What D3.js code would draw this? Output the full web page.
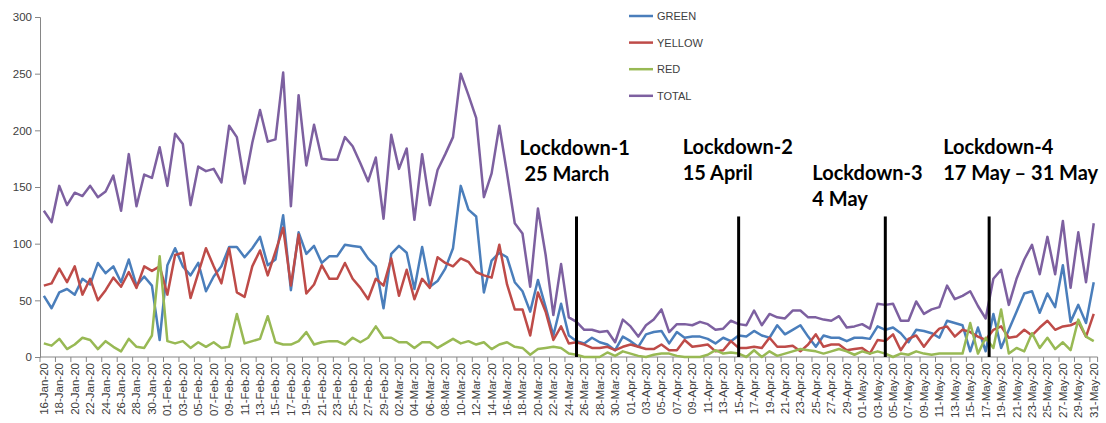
<!DOCTYPE html>
<html>
<head>
<meta charset="utf-8">
<script src="https://cdn.jsdelivr.net/npm/d3@7"></script>
<style>
  body { margin: 0; background: #fff; }
  text { font-family: "Liberation Sans", Arial, sans-serif; }
  .note { font-family: Lato, "Liberation Sans", sans-serif; font-weight: bold; font-size: 20px; fill: #000; }
</style>
</head>
<body>
<div id="chart"></div>
<script>
// categories: one per day, 16 Jan 2020 to 31 May 2020
const parseDay = d3.timeParse("%d-%b-%y");
const formatDay = d3.timeFormat("%d-%b-%y");
const days = d3.timeDay.range(parseDay("16-Jan-20"), parseDay("01-Jun-20")).map(formatDay);

// series values
const green = [54,43,57,60,55,69,64,83,74,80, 66,86,63,71,63,15,81,96,80,72,
  83,58,71,80,97,97,88,96,106,81, 86,125,59,110,91,98,83,89,89,99,
  98,97,87,80,43,91,98,92,60,97, 62,67,78,96,151,130,124,57,85,92,
  88,66,58,40,68,44,19,47,19,14, 12,17,13,11,6,18,14,9,20,22,
  23,12,22,17,18,18,16,12,17,14, 19,18,23,19,17,28,20,24,28,18,
  9,19,17,17,14,17,17,16,27,24, 26,21,13,24,23,21,17,32,30,28,
  5,26,5,38,8,24,40,56,58,39, 56,44,81,31,46,30,66];
const yellow = [63,65,78,66,80,55,69,50,59,70, 62,75,61,80,76,80,55,90,92,52,
  74,96,80,65,96,57,53,80,94,72, 93,114,63,108,56,64,81,69,69,83,
  69,61,51,69,63,87,54,77,51,69, 61,88,83,80,87,84,75,72,70,99,
  64,42,42,19,57,40,15,27,12,13, 11,8,8,9,6,9,11,9,7,7,
  11,6,6,15,9,10,11,5,6,14, 8,8,9,8,17,9,9,10,5,11,
  20,9,11,11,6,7,8,3,15,14, 20,6,16,19,9,18,25,27,18,24,
  22,18,15,24,27,17,18,24,19,26, 32,24,27,28,31,18,38];
const red = [12,10,16,7,11,17,15,7,14,9, 5,16,9,8,19,89,14,12,14,8,
  13,9,13,8,9,38,12,14,16,36, 13,11,11,14,22,11,13,14,14,11,
  17,13,17,27,17,17,13,13,8,13, 13,8,12,16,12,14,11,13,7,11,
  13,9,8,2,7,8,9,8,3,2, 0,0,0,4,1,5,3,1,0,2,
  3,3,1,0,0,0,2,6,3,4, 3,0,6,0,5,1,3,5,7,6,
  5,3,5,7,5,2,5,3,5,3, 0,3,2,5,3,2,3,3,3,3,
  30,3,17,8,42,3,8,5,21,8, 17,7,13,6,33,18,14];
const total = [129,119,151,134,145,142,151,141,146,160, 129,179,133,161,158,185,151,197,188,134,
  168,164,166,154,204,194,153,189,218,190, 192,251,133,231,169,205,175,174,174,194,
  186,171,155,176,122,196,166,184,121,179, 134,165,179,194,250,231,211,141,162,204,
  162,118,109,62,131,90,37,82,35,31, 24,24,22,23,13,33,27,18,28,33,
  42,22,29,29,28,31,29,24,25,32, 29,28,41,28,38,35,34,41,41,35,
  35,33,32,36,26,27,29,25,47,46, 47,32,32,49,38,42,44,63,51,54,
  58,45,34,69,77,46,69,86,99,73, 106,73,120,61,110,66,118];

const seriesNames = ["GREEN", "YELLOW", "RED", "TOTAL"];
const seriesValues = [green, yellow, red, total];
const seriesColors = ["#4a7ebb", "#be4b48", "#98b954", "#7d60a0"];

const yTicks = [0, 50, 100, 150, 200, 250, 300];

// lockdown markers: date, label lines, height of marker line (in data units)
const lockDates = ["25-Mar-20", "15-Apr-20", "04-May-20", "17-May-20"];
const lockLabels = [["Lockdown-1", " 25 March"], ["Lockdown-2", "15 April"],
  ["Lockdown-3", "4 May"], ["Lockdown-4", "17 May \u2013 31 May"]];
const lockTop = 124;

// layout of the notes (pixels relative to the marker)
const noteLayout = [
  { dx: -57, y: 155, shift: 0 },
  { dx: -56, y: 154, shift: 0 },
  { dx: -73, y: 180, shift: 0 },
  { dx: -46, y: 154, shift: 0.45 }
];

const width = 1106, height = 423;
const plotLeft = 40, plotRight = 1097.6, plotTop = 17, plotBottom = 357;

const svg = d3.select("#chart").append("svg")
  .attr("width", width)
  .attr("height", height);

const x = d3.scaleBand().domain(days).range([plotLeft, plotRight]).padding(0);
const xc = d => x(d) + x.bandwidth() / 2;
const y = d3.scaleLinear().domain([0, 300]).range([plotBottom, plotTop]);

// y axis
const yAxis = svg.append("g")
  .attr("transform", `translate(${plotLeft},0)`)
  .call(d3.axisLeft(y).tickValues(yTicks).tickSize(5).tickPadding(3));
yAxis.select(".domain").attr("stroke", "#868686");
yAxis.selectAll(".tick line").attr("stroke", "#868686");
yAxis.selectAll(".tick text").attr("font-size", "11.5px").attr("fill", "#404040")
  .attr("font-family", "Liberation Sans, Arial, sans-serif");

// x axis: labels every other day, ticks every two categories
const xAxis = svg.append("g")
  .attr("transform", `translate(0,${plotBottom})`);
xAxis.append("line")
  .attr("x1", plotLeft).attr("x2", plotRight)
  .attr("stroke", "#868686");
xAxis.selectAll("line.tk")
  .data(days.filter((d, i) => i % 2 === 0))
  .enter().append("line")
  .attr("class", "tk")
  .attr("x1", d => x(d)).attr("x2", d => x(d))
  .attr("y1", 0).attr("y2", 5)
  .attr("stroke", "#868686");
xAxis.append("line")
  .attr("x1", plotRight).attr("x2", plotRight).attr("y1", 0).attr("y2", 5)
  .attr("stroke", "#868686");
xAxis.selectAll("text")
  .data(days.filter((d, i) => i % 2 === 0))
  .enter().append("text")
  .attr("transform", d => `translate(${xc(d) + 4},6) rotate(-90)`)
  .attr("text-anchor", "end")
  .attr("font-size", "11.5px")
  .attr("fill", "#404040")
  .text(d => d);

// lines
const line = d3.line()
  .x((v, i) => xc(days[i]))
  .y(v => y(v));

svg.append("g")
  .selectAll("path")
  .data(seriesValues)
  .enter().append("path")
  .attr("d", d => line(d))
  .attr("fill", "none")
  .attr("stroke", (d, i) => seriesColors[i])
  .attr("stroke-width", 2.5)
  .attr("stroke-linejoin", "round");

// lockdown markers
const marks = svg.append("g");
lockDates.forEach((d, i) => {
  const lx = xc(d) + noteLayout[i].shift * x.bandwidth();
  marks.append("line")
    .attr("x1", lx).attr("x2", lx)
    .attr("y1", y(0)).attr("y2", y(lockTop))
    .attr("stroke", "#000")
    .attr("stroke-width", 3);
  lockLabels[i].forEach((t, k) => {
    marks.append("text")
      .attr("class", "note")
      .attr("x", lx + noteLayout[i].dx)
      .attr("y", noteLayout[i].y + k * 25.5)
      .attr("xml:space", "preserve")
      .style("white-space", "pre")
      .text(t);
  });
});

// legend
const legend = svg.append("g").attr("transform", "translate(629,16)");
seriesNames.forEach((name, i) => {
  const row = legend.append("g").attr("transform", `translate(0,${i * 26.6})`);
  row.append("line")
    .attr("x1", 0).attr("x2", 24)
    .attr("stroke", seriesColors[i])
    .attr("stroke-width", 2.5);
  row.append("text")
    .attr("x", 28).attr("y", 4)
    .attr("font-size", "11px")
    .attr("fill", "#404040")
    .text(name);
});
</script>
</body>
</html>
